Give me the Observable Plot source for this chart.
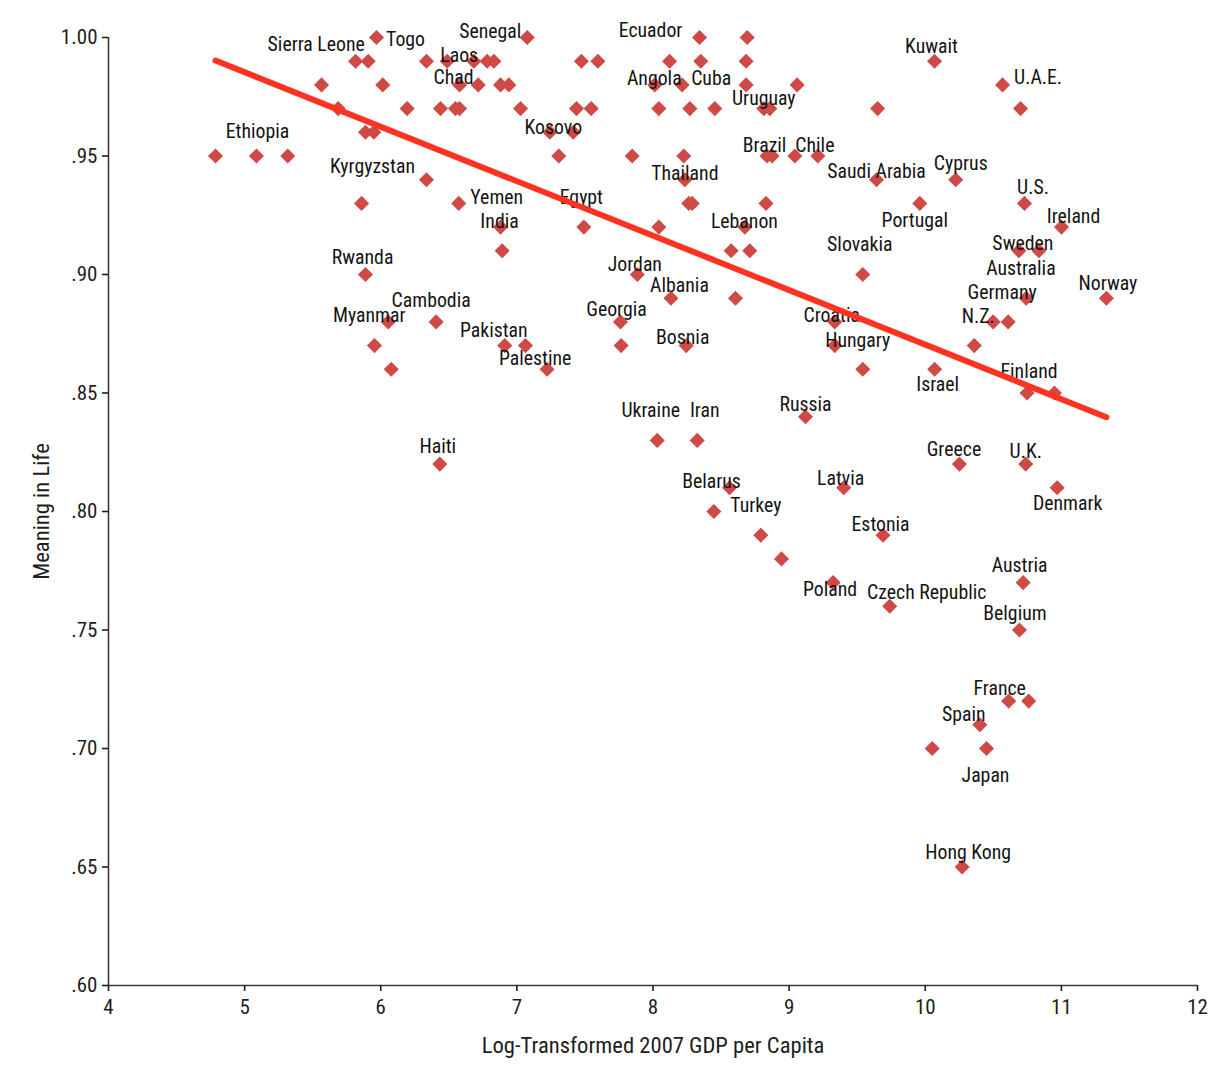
<!DOCTYPE html>
<html>
<head>
<meta charset="utf-8">
<script src="https://cdn.jsdelivr.net/npm/d3@7"></script>
<script src="https://cdn.jsdelivr.net/npm/@observablehq/plot@0.6"></script>
<style>
  html, body { margin: 0; padding: 0; background: #fff; overflow: hidden; }
  #chart svg { display: block; }
</style>
</head>
<body>
<div id="chart"></div>
<script>
// ---------------- DATA ----------------
// One entry per nation: log-transformed 2007 GDP per capita, meaning in life, label ("" = unlabeled)
const gdp = [
  5.969, 7.076, 8.342, 8.692,                                                          // 1.00
  5.815, 5.908, 6.336, 6.488, 6.684, 6.782, 6.831, 7.474, 7.595, 8.122, 8.351, 8.684, 10.068, // .99
  5.565, 6.015, 6.579, 6.716, 6.880, 6.941, 8.013, 8.214, 8.684, 9.059, 10.568,         // .98
  5.687, 6.194, 6.439, 6.549, 6.579, 7.027, 7.438, 7.546, 8.043, 8.271, 8.454, 8.814, 8.858, 9.650, 10.700, // .97
  5.888, 5.949, 7.242, 7.414,                                                          // .96
  4.786, 5.087, 5.317, 7.308, 7.847, 8.226, 8.838, 8.875, 9.042, 9.211,                // .95
  6.336, 8.234, 9.642, 10.224,                                                         // .94
  5.859, 6.573, 8.263, 8.288, 8.830, 9.960, 10.729,                                    // .93
  6.880, 7.492, 8.043, 8.675, 11.001,                                                  // .92
  6.892, 8.574, 8.711, 10.688, 10.835,                                                 // .91
  5.888, 7.885, 9.541,                                                                 // .90
  8.132, 8.606, 10.741, 11.331,                                                        // .89
  6.055, 6.407, 7.761, 9.335, 10.499, 10.609,                                          // .88
  5.954, 6.911, 7.063, 7.766, 8.244, 9.335, 10.360,                                    // .87
  6.077, 7.222, 9.541, 10.069,                                                         // .86
  10.748, 10.949,                                                                      // .85
  9.120,                                                                               // .84
  8.031, 8.325,                                                                        // .83
  6.434, 10.251, 10.738,                                                               // .82
  8.562, 9.401, 10.969,                                                                // .81
  8.447,                                                                               // .80
  8.792, 9.690,                                                                        // .79
  8.944,                                                                               // .78
  9.323, 10.719,                                                                       // .77
  9.739,                                                                               // .76
  10.692,                                                                              // .75
  10.613, 10.760,                                                                      // .72
  10.401,                                                                              // .71
  10.051, 10.450,                                                                      // .70
  10.271                                                                               // .65
];

const meaning = [
  1.00, 1.00, 1.00, 1.00,
  0.99, 0.99, 0.99, 0.99, 0.99, 0.99, 0.99, 0.99, 0.99, 0.99, 0.99, 0.99, 0.99,
  0.98, 0.98, 0.98, 0.98, 0.98, 0.98, 0.98, 0.98, 0.98, 0.98, 0.98,
  0.97, 0.97, 0.97, 0.97, 0.97, 0.97, 0.97, 0.97, 0.97, 0.97, 0.97, 0.97, 0.97, 0.97, 0.97,
  0.96, 0.96, 0.96, 0.96,
  0.95, 0.95, 0.95, 0.95, 0.95, 0.95, 0.95, 0.95, 0.95, 0.95,
  0.94, 0.94, 0.94, 0.94,
  0.93, 0.93, 0.93, 0.93, 0.93, 0.93, 0.93,
  0.92, 0.92, 0.92, 0.92, 0.92,
  0.91, 0.91, 0.91, 0.91, 0.91,
  0.90, 0.90, 0.90,
  0.89, 0.89, 0.89, 0.89,
  0.88, 0.88, 0.88, 0.88, 0.88, 0.88,
  0.87, 0.87, 0.87, 0.87, 0.87, 0.87, 0.87,
  0.86, 0.86, 0.86, 0.86,
  0.85, 0.85,
  0.84,
  0.83, 0.83,
  0.82, 0.82, 0.82,
  0.81, 0.81, 0.81,
  0.80,
  0.79, 0.79,
  0.78,
  0.77, 0.77,
  0.76,
  0.75,
  0.72, 0.72,
  0.71,
  0.70, 0.70,
  0.65
];

const country = [
  "Togo", "Senegal", "Ecuador", "",
  "", "Sierra Leone", "", "Laos", "", "", "", "", "", "", "", "", "Kuwait",
  "", "", "Chad", "", "", "", "Angola", "Cuba", "", "", "U.A.E.",
  "", "", "", "", "", "", "", "", "", "", "", "Uruguay", "", "", "",
  "", "", "Kosovo", "",
  "", "Ethiopia", "", "", "", "", "Brazil", "", "", "Chile",
  "Kyrgyzstan", "Thailand", "Saudi Arabia", "Cyprus",
  "", "Yemen", "", "", "", "Portugal", "U.S.",
  "India", "Egypt", "", "Lebanon", "Ireland",
  "", "", "", "Sweden", "Australia",
  "Rwanda", "Jordan", "Slovakia",
  "Albania", "", "Germany", "Norway",
  "Myanmar", "Cambodia", "Georgia", "Croatia", "N.Z.", "",
  "", "Pakistan", "", "", "Bosnia", "Hungary", "",
  "", "Palestine", "", "Israel",
  "Finland", "",
  "Russia",
  "Ukraine", "Iran",
  "Haiti", "Greece", "U.K.",
  "Belarus", "Latvia", "Denmark",
  "Turkey",
  "", "Estonia",
  "",
  "Poland", "Austria",
  "Czech Republic",
  "Belgium",
  "France", "",
  "Spain",
  "", "Japan",
  "Hong Kong"
];

// Fitted regression line coefficients
const fitIntercept = 1.1003;
const fitSlope = -0.02299;

// Axis ticks
const xTicks = [4, 5, 6, 7, 8, 9, 10, 11, 12];
const yTicks = [0.60, 0.65, 0.70, 0.75, 0.80, 0.85, 0.90, 0.95, 1.00];

// Titles
const xTitle = "Log-Transformed 2007 GDP per Capita";
const yTitle = "Meaning in Life";

// ---------------- LAYOUT: label nudges in pixels, relative to each labelled point ----------------
const labelOffset = {
  "Togo": [29, 2.5], "Sierra Leone": [-52, -16.5], "Senegal": [-37, -6], "Laos": [12, -5.5],
  "Chad": [-6, -7], "Ethiopia": [1, -24], "Kyrgyzstan": [-54, -13.5], "Yemen": [38, -5.5],
  "India": [-1, -5], "Rwanda": [-3, -16.5], "Cambodia": [-5, -21], "Myanmar": [-19, -6],
  "Pakistan": [-11, -15], "Palestine": [-12, -10.5], "Haiti": [-2, -17], "Kosovo": [3.5, -5],
  "Egypt": [-2.5, -29], "Ecuador": [-49, -7], "Angola": [-0.5, -6], "Cuba": [29, -6],
  "Uruguay": [0, -10], "Thailand": [0, -6.5], "Lebanon": [-0.5, -5], "Jordan": [-2.5, -10],
  "Albania": [8.5, -13], "Georgia": [-4, -12.5], "Bosnia": [-3.5, -8], "Brazil": [-2.5, -10.5],
  "Chile": [-3, -10.5], "Saudi Arabia": [0, -8], "Kuwait": [-3, -14.5], "U.A.E.": [35.5, -7],
  "Cyprus": [5, -16.5], "U.S.": [8.5, -16], "Portugal": [-5, 17], "Ireland": [12, -10.5],
  "Slovakia": [-3, -30], "Sweden": [4, -7.5], "Australia": [-18, 18], "Germany": [-24, -5.5],
  "Norway": [1.5, -14.5], "N.Z.": [-15, -5.5], "Croatia": [-3, -6.5], "Hungary": [23, -5],
  "Israel": [3, 15], "Finland": [2, -21], "Russia": [0, -12], "Ukraine": [-6.5, -30],
  "Iran": [7.5, -30], "Greece": [-5.5, -14.5], "U.K.": [0, -12], "Denmark": [10.5, 16],
  "Belarus": [-18, -6.5], "Turkey": [42, -6], "Latvia": [-3, -9.5], "Estonia": [-2.5, -10.5],
  "Poland": [-3, 7], "Czech Republic": [37, -14], "Austria": [-3.5, -16.5], "Belgium": [-4.5, -16],
  "France": [-9, -12], "Spain": [-16, -10], "Japan": [-1, 27], "Hong Kong": [6, -14]
};

// ---------------- BUILD ----------------
const FONT = '"Liberation Sans Narrow", "Arial Narrow", "Roboto Condensed", "DejaVu Sans Condensed", sans-serif';

const points = gdp.map((x, i) => ({gdp: x, meaning: meaning[i], country: country[i]}));
const labelled = points.filter(d => d.country);
const [gMin, gMax] = d3.extent(gdp);
const fitLine = [gMin, gMax].map(x => ({gdp: x, meaning: fitIntercept + fitSlope * x}));

const fmtY = d => d3.format(".2f")(d).replace(/^0/, "");

const labelMarks = labelled.map(d => {
  const [dx, dy] = labelOffset[d.country] || [0, -14];
  return Plot.text([d], {
    x: "gdp", y: "meaning", text: "country",
    dx, dy, fontSize: 19.8, fill: "#141414", textAnchor: "middle", lineAnchor: "middle"
  });
});

const chart = Plot.plot({
  width: 1224,
  height: 1074,
  marginLeft: 108,
  marginRight: 27,
  marginTop: 37,
  marginBottom: 89,
  style: {fontFamily: FONT, background: "#fff", overflow: "visible"},
  x: {domain: [4, 12]},
  y: {domain: [0.6, 1.0]},
  marks: [
    Plot.ruleX([4], {stroke: "#3a3a3a", strokeWidth: 1.6}),
    Plot.ruleY([0.6], {stroke: "#3a3a3a", strokeWidth: 1.6}),
    Plot.axisX({ticks: xTicks, tickSize: 6, tickPadding: 8, fontSize: 21, label: null, color: "#1e1e1e", strokeWidth: 1.6}),
    Plot.axisY({ticks: yTicks, tickFormat: fmtY, tickSize: 6, tickPadding: 5, fontSize: 21, label: null, color: "#1e1e1e", strokeWidth: 1.6}),
    Plot.text([xTitle], {text: d => d, frameAnchor: "bottom", dy: 60, fontSize: 22.6, fill: "#1e1e1e", textAnchor: "middle", lineAnchor: "middle"}),
    Plot.text([yTitle], {text: d => d, frameAnchor: "left", dx: -67, rotate: -90, fontSize: 22.6, fill: "#1e1e1e", textAnchor: "middle", lineAnchor: "middle"}),
    Plot.dot(points, {x: "gdp", y: "meaning", symbol: "diamond2", r: 6.8, fill: "#cf4a46", stroke: "none"}),
    ...labelMarks,
    Plot.line(fitLine, {x: "gdp", y: "meaning", stroke: "#ff3322", strokeWidth: 6, strokeLinecap: "round"})
  ]
});

document.getElementById("chart").appendChild(chart);
</script>
</body>
</html>
